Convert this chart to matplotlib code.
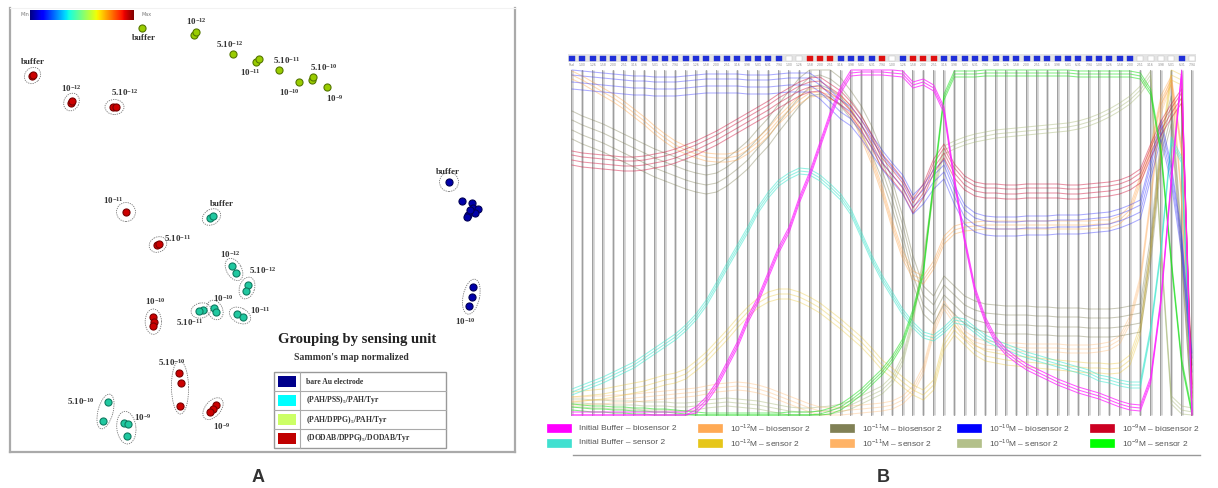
import numpy as np
import matplotlib
matplotlib.use('Agg')
import matplotlib.pyplot as plt
from matplotlib.patches import Ellipse, Rectangle
from matplotlib.lines import Line2D

plt.rcParams['mathtext.fontset'] = 'custom'
plt.rcParams['mathtext.rm'] = 'Liberation Serif'
plt.rcParams['mathtext.bf'] = 'Liberation Serif:bold'
plt.rcParams['mathtext.sf'] = 'Liberation Sans'

# ---------------- Panel A : Sammon map (map units) ----------------
conc = ['buffer', '10^{-12}', '5.10^{-12}', '10^{-11}', '5.10^{-11}', '10^{-10}', '5.10^{-10}', '10^{-9}']

# (PAH/DPPG)5/PAH/Tyr
dppg_x = [[132], [184, 186], [223], [246, 249], [269], [289], [302, 303], [317]]
dppg_y = [[424], [417, 420], [398], [390, 393], [382], [370], [372, 375], [365]]
dppg_lab = [(2, -10), (1, 12), (-3, 10), (-7, -12), (8, 10), (-10, -10), (11, 11), (8, -11)]

# (DODAB/DPPG)5/DODAB/Tyr
dodab_x = [[22, 23], [61, 62], [103, 106], [116], [147, 149], [143, 144, 143], [169, 171, 170], [206, 203, 200]]
dodab_y = [[376, 377], [349, 351], [345, 345], [240], [207, 208], [135, 130, 126], [79, 69, 46], [47, 43, 40]]
dodab_lab = [(0, 14), (0, 13), (10, 14), (-13, 12), (20, 6), (2, 20), (-8, 25), (9, -18)]

# (PAH/PSS)5/PAH/Tyr
pss_names = ['buffer', '10^{-12}', '5.10^{-12}', '10^{-11}', '5.10^{-11}', '10^{-10}', '5.10^{-10}', '10^{-9}']
pss_x = [[200, 203], [222, 226], [238, 236], [227, 233], [193, 189], [204, 206], [98, 93], [114, 118, 117]]
pss_y = [[234, 236], [186, 179], [167, 161], [138, 135], [142, 141], [144, 140], [50, 31], [29, 28, 16]]
pss_lab = [(10, 13), (-4, 15), (16, 18), (20, 5), (-11, -12), (8, 12), (-25, 10), (16, 10)]

# bare Au electrode
au_conc = ['buffer', '', '10^{-10}']
au_x = [[439], [452, 462, 463, 468, 458, 465, 457, 460], [463, 462, 459]]
au_y = [[270], [251, 249, 244, 243, 237, 239, 235, 242], [165, 155, 146]]
au_lab = [(-1, 10), (0, 0), (-6, -25)]

units = ['bare Au electrode', r'(PAH/PSS)$_\mathbf{5}$/PAH/Tyr',
         r'(PAH/DPPG)$_\mathbf{5}$/PAH/Tyr', r'(DODAB/DPPG)$_\mathbf{5}$/DODAB/Tyr']
unit_colors = ['#00008b', '#00ffff', '#ccff66', '#c00000']

# ---------------- Panel B : parallel coordinates ----------------
indicator = (['b'] * 21 + ['w', 'w', 'r', 'r', 'r', 'b', 'b', 'b', 'b', 'r', 'w', 'b', 'r', 'r', 'r']
             + ['b'] * 19 + ['w', 'w', 'w', 'w', 'b', 'w'])
mantissa = ['1.00', '1.26', '1.58', '2.00', '2.51', '3.16', '3.98', '5.01', '6.31', '7.94']
axis_labels = ['Rsol'] + mantissa * 6

buffer_bio = [0, 0, 0, 0, 0, 0, 0, 0, 0, 0,
              0, 0, 5, 15, 30, 50, 70, 95, 115, 140,
              165, 185, 215, 240, 270, 300, 325, 342, 343, 343,
              343, 342, 341, 330, 333, 327, 305, 235, 175, 125,
              95, 75, 63, 55, 48, 43, 38, 33, 29, 25,
              22, 19, 15, 11, 8, 7, 35, 115, 235, 343,
              0]
c12_bio = [340, 335, 329, 323, 317, 310, 302, 294, 285, 277,
           270, 265, 261, 258, 257, 257, 259, 265, 273, 283,
           295, 305, 315, 322, 323, 320, 315, 305, 280, 255,
           225, 190, 160, 140, 135, 150, 175, 185, 188, 189,
           190, 190, 190, 190, 190, 190, 190, 190, 190, 190,
           190, 191, 191, 195, 205, 235, 265, 315, 335, 265,
           5]
c11_bio = [290, 285, 281, 277, 272, 267, 262, 257, 252, 248,
           244, 240, 237, 235, 237, 243, 251, 260, 272, 283,
           297, 310, 323, 333, 335, 331, 323, 310, 295, 275,
           250, 220, 185, 145, 115, 105, 125, 115, 105, 100,
           97, 96, 95, 95, 95, 94, 94, 93, 93, 93,
           92, 92, 92, 93, 95, 97, 165, 265, 305, 165,
           5]
c10_bio = [338, 337, 336, 335, 334, 333, 332, 332, 331, 331,
           331, 332, 333, 334, 334, 334, 334, 333, 333, 333,
           334, 335, 335, 335, 328, 318, 308, 301, 288, 273,
           258, 245, 233, 213, 223, 238, 248, 223, 203, 195,
           192, 191, 191, 191, 192, 192, 192, 193, 193, 193,
           194, 195, 196, 199, 203, 208, 248, 288, 243, 173,
           55]
c9_bio = [258, 256, 255, 254, 253, 252, 252, 253, 255, 257,
          260, 264, 268, 273, 278, 284, 290, 296, 302, 308,
          315, 321, 327, 331, 332, 325, 318, 307, 293, 275,
          255, 243, 230, 210, 225, 250, 265, 245, 233, 227,
          225, 225, 224, 224, 225, 225, 225, 225, 224, 224,
          225, 226, 227, 229, 233, 240, 265, 288, 305, 320,
          25]
buffer_sen = [23, 27, 31, 35, 40, 45, 50, 57, 64, 71,
              78, 87, 98, 112, 130, 149, 167, 185, 205, 220,
              232, 239, 244, 243, 237, 228, 218, 203, 180, 157,
              137, 120, 103, 90, 80, 77, 85, 95, 93, 85,
              77, 72, 68, 64, 60, 57, 54, 51, 48, 45,
              42, 37, 35, 32, 30, 30, 85, 165, 275, 255,
              5]
c12_sen = [18, 19, 20, 21, 23, 25, 27, 29, 32, 35,
           37, 41, 49, 58, 69, 80, 92, 103, 112, 118,
           121, 121, 118, 113, 107, 99, 91, 82, 73, 62,
           50, 42, 33, 25, 20, 30, 70, 85, 75, 65,
           59, 57, 55, 54, 53, 52, 51, 50, 49, 48,
           47, 47, 46, 47, 55, 85, 165, 265, 340, 335,
           5]
c11_sen = [14, 14, 15, 15, 16, 16, 17, 18, 19, 20,
           21, 22, 23, 25, 27, 28, 29, 28, 26, 23,
           19, 15, 11, 7, 4, 3, 4, 5, 6, 7,
           8, 10, 15, 25, 45, 85, 110, 95, 80, 73,
           70, 69, 68, 68, 67, 67, 67, 67, 66, 66,
           66, 67, 69, 75, 95, 135, 215, 305, 335, 215,
           5]
c10_sen = [12, 12, 11, 11, 10, 10, 10, 9, 9, 9,
           8, 8, 9, 11, 12, 13, 12, 11, 10, 8,
           6, 4, 3, 3, 4, 5, 7, 10, 15, 20,
           25, 35, 55, 95, 155, 225, 265, 270, 274, 277,
           279, 281, 282, 283, 284, 285, 286, 287, 288, 290,
           293, 297, 302, 308, 315, 325, 340, 165, 15, 5,
           3]
c9_sen = [10, 9, 8, 8, 7, 7, 6, 6, 5, 5,
          4, 3, 2, 1, 1, 1, 1, 1, 1, 1,
          1, 2, 2, 2, 3, 6, 10, 17, 25, 35,
          45, 58, 75, 105, 145, 235, 320, 343, 343, 343,
          344, 344, 344, 344, 344, 344, 344, 344, 344, 343,
          343, 343, 343, 343, 343, 341, 325, 265, 155, 55,
          3]

series_names = ['Initial Buffer – biosensor 2', r'10$^{\mathsf{-12}}$M – biosensor 2',
                r'10$^{\mathsf{-11}}$M – biosensor 2', r'10$^{\mathsf{-10}}$M – biosensor 2',
                r'10$^{\mathsf{-9}}$M – biosensor 2',
                'Initial Buffer – sensor 2', r'10$^{\mathsf{-12}}$M – sensor 2',
                r'10$^{\mathsf{-11}}$M – sensor 2', r'10$^{\mathsf{-10}}$M – sensor 2',
                r'10$^{\mathsf{-9}}$M – sensor 2']
series_vals = [buffer_bio, c12_bio, c11_bio, c10_bio, c9_bio,
               buffer_sen, c12_sen, c11_sen, c10_sen, c9_sen]
# spread of the replicate measurements around each profile
replicates = [[-3, 0, 3], [-4, 0, 4], [-14, -5, 5, 14], [-12, -5, 2, 7], [-8, -3, 2, 6],
              [-3, 0, 3], [-5, 0, 5], [-4, 0, 4], [-4, 0, 4], [-5, -2, 1]]
swatch_colors = ['#ff00ff', '#ffaa55', '#808055', '#0000ff', '#cc0022',
                 '#40e0d0', '#e6c619', '#ffb366', '#b3c08a', '#00ff00']
line_colors = ['#ff22ff', '#ffa040', '#7a7a50', '#3030ff', '#d0103a',
               '#40e8d0', '#e8c020', '#ffb060', '#a8b878', '#20e020']
line_alpha = [0.75, 0.4, 0.4, 0.4, 0.45, 0.55, 0.35, 0.35, 0.45, 0.55]
draw_order = [8, 7, 6, 2, 1, 5, 3, 4, 9, 0]

W, H = 1218, 488
fig = plt.figure(figsize=(W / 100, H / 100), dpi=100)

# ================= Panel A =================
axA = fig.add_axes([10 / W, (H - 452) / H, 505 / W, 444 / H])
axA.set_xticks([])
axA.set_yticks([])
for s in ['left', 'right', 'bottom']:
    axA.spines[s].set_color('#aaaaaa')
    axA.spines[s].set_linewidth(1.6)
axA.spines['top'].set_color('#f2f2f2')

axA.imshow(np.linspace(0, 1, 256)[None, :], cmap='jet', extent=(20, 124, 432, 442), aspect='auto')
axA.text(15, 437, 'Min', fontsize=3.5, color='#777777', ha='center', va='center')
axA.text(137, 437, 'Max', fontsize=3.5, color='#777777', ha='center', va='center')


def cluster_ellipse(xs, ys):
    pts = np.column_stack([xs, ys]).astype(float)
    c = pts.mean(axis=0)
    if len(pts) == 1:
        return Ellipse(c, 19, 19)
    d = pts - c
    vals, vecs = np.linalg.eigh(d.T @ d)
    major = vecs[:, 1]
    minor = vecs[:, 0]
    w = 2 * np.abs(d @ major).max() + 16
    h = 2 * np.abs(d @ minor).max() + 15
    ang = np.degrees(np.arctan2(major[1], major[0]))
    return Ellipse(c, w, h, angle=ang)


def draw_group(xs, ys, labs, names, face, edge, ellipses, skip_ell=()):
    for k, (gx, gy) in enumerate(zip(xs, ys)):
        axA.scatter(gx, gy, s=26, color=face, edgecolors=edge, linewidths=0.8, zorder=3)
        if ellipses and k not in skip_ell:
            e = cluster_ellipse(gx, gy)
            e.set_fill(False)
            e.set_edgecolor('#777777')
            e.set_linewidth(0.6)
            e.set_linestyle((0, (1.5, 1.2)))
            axA.add_patch(e)
        name = names[k]
        if name == '':
            continue
        cx, cy = np.mean(gx), np.mean(gy)
        txt = 'buffer' if name == 'buffer' else r'$\mathbf{' + name + '}$'
        axA.text(cx + labs[k][0], cy + labs[k][1], txt, fontsize=6.5, fontweight='bold',
                 family='Liberation Serif', color='#333333', ha='center', va='center')


draw_group(dppg_x, dppg_y, dppg_lab, conc, '#99cc00', '#557700', False)
draw_group(dodab_x, dodab_y, dodab_lab, conc, '#cc0000', '#770000', True)
draw_group(pss_x, pss_y, pss_lab, pss_names, '#20c8a0', '#0f7a60', True)
draw_group(au_x, au_y, au_lab, au_conc, '#0000aa', '#000055', True, skip_ell=(1,))

axA.text(347, 112, 'Grouping by sensing unit', fontsize=10.5, fontweight='bold',
         family='Liberation Serif', color='#222222', ha='center', va='center')
axA.text(341, 95, "Sammon's map normalized", fontsize=7, fontweight='bold',
         family='Liberation Serif', color='#333333', ha='center', va='center')

# legend table
x0, x1, xs_ = 264, 436, 290
row_h = 19
top = 80
axA.add_patch(Rectangle((x0, top - 4 * row_h), x1 - x0, 4 * row_h, fill=False,
                        edgecolor='#999999', lw=1.0))
axA.plot([xs_, xs_], [top - 4 * row_h, top], color='#aaaaaa', lw=0.8)
for r, (name, col) in enumerate(zip(units, unit_colors)):
    yb = top - (r + 1) * row_h
    if r > 0:
        axA.plot([x0, x1], [yb + row_h, yb + row_h], color='#aaaaaa', lw=0.8)
    axA.add_patch(Rectangle((x0 + 4, yb + 4), xs_ - x0 - 8, row_h - 8, color=col, lw=0))
    axA.text(xs_ + 6, yb + row_h / 2, name, fontsize=5.5, fontweight='bold',
             family='Liberation Serif', color='#333333', va='center', ha='left')

axA.set_xlim(0, 505)
axA.set_ylim(0, 444)

# ================= Panel B =================
axB = fig.add_axes([569 / W, (H - 417) / H, 626 / W, 349 / H])
axB.set_xlim(-0.29, 60.29)
axB.set_ylim(-2, 347)
axB.axis('off')

n_axes = len(indicator)
for i in range(n_axes):
    axB.plot([i, i], [0, 345], color='#cfcfcf', lw=1.8, zorder=0, solid_capstyle='butt')
    axB.plot([i - 0.07, i - 0.07], [0, 345], color='#959595', lw=0.6, zorder=0)

xs_axes = np.arange(n_axes)
for k in draw_order:
    base = np.array(series_vals[k], dtype=float)
    for off in replicates[k]:
        axB.plot(xs_axes, np.clip(base + off, 0, 345), color=line_colors[k],
                 alpha=line_alpha[k], lw=0.75, zorder=2)

# indicator strip and axis labels above
axB.add_patch(Rectangle((-0.4, 353), 60.8, 8, color='#e4e4e4', lw=0, clip_on=False))
ind_face = {'b': '#1f2fd8', 'r': '#e01010', 'w': '#ffffff'}
for i, c in enumerate(indicator):
    axB.add_patch(Rectangle((i - 0.3, 354.5), 0.6, 5, facecolor=ind_face[c],
                            edgecolor='#bbbbbb' if c == 'w' else ind_face[c], lw=0.3, clip_on=False))
    axB.text(i, 349.5, axis_labels[i], fontsize=2.2, color='#888888', ha='center', va='center',
             clip_on=False)

# legend (two rows: biosensor / sensor)
leg_cols = [547, 698, 830, 957, 1090]
leg_rows = [428, 443]
for k, name in enumerate(series_names):
    col, row = k % 5, k // 5
    xl = leg_cols[col] / W
    yl = 1 - leg_rows[row] / H
    fig.add_artist(Rectangle((xl, yl - 4 / H), 24 / W, 8 / H, transform=fig.transFigure,
                             facecolor=swatch_colors[k], edgecolor=swatch_colors[k], lw=0.5))
    fig.text(xl + 32 / W, yl, name, fontsize=6, color='#555555', va='center', ha='left',
             family='Liberation Sans')

fig.add_artist(Line2D([573 / W, 1200 / W], [1 - 455 / H, 1 - 455 / H], transform=fig.transFigure,
                      color='#999999', lw=1.0))

fig.text(258 / W, 1 - 478 / H, 'A', fontsize=13, fontweight='bold', color='#333333',
         ha='center', va='center', family='Liberation Sans')
fig.text(883 / W, 1 - 478 / H, 'B', fontsize=13, fontweight='bold', color='#333333',
         ha='center', va='center', family='Liberation Sans')

fig.savefig('out.png', dpi=100, facecolor='white')
